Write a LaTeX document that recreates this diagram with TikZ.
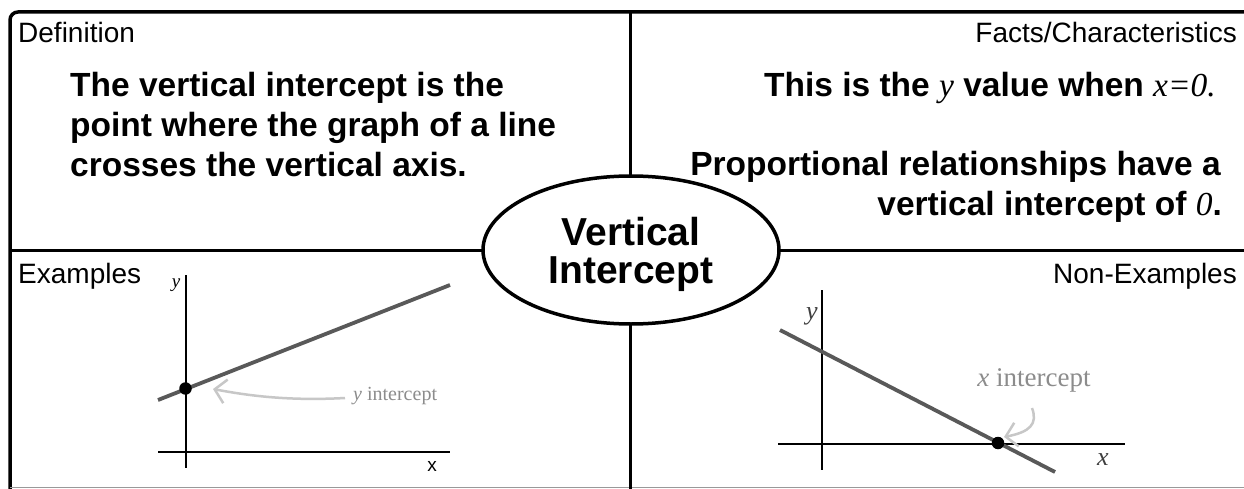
\documentclass[tikz,border=0pt]{standalone}
\usepackage{fontspec}
\setmainfont{Liberation Sans}
\newfontfamily\tms{Liberation Serif}
\usetikzlibrary{shapes.geometric,arrows.meta}
\begin{document}
\begin{tikzpicture}[x=1pt,y=-1pt,
 frame/.style={line width=3.5pt,black},
 lbl/.style={font=\fontsize{28}{30}\selectfont, inner sep=0pt},
 big/.style={font=\fontsize{33.5}{38}\selectfont\bfseries, inner sep=0pt},
 ctr/.style={font=\fontsize{39}{42}\selectfont\bfseries, anchor=base, inner sep=0pt},
 gline/.style={line width=3.8pt, color=black!65},
 axis/.style={line width=1.2pt,black},
 hint/.style={line width=2.5pt, color=black!22, -{Straight Barb[length=11pt,width=24pt,line width=2.5pt]}},
 dot/.style={circle, fill=black, inner sep=0pt, minimum size=12.5pt},
 it/.style={inner sep=0pt}]
\useasboundingbox (0,0) rectangle (1244,489);
\fill[white] (0,0) rectangle (1244,489);
% frame
\coordinate (fbl) at (10,489);
\coordinate (ftl) at (10,12);
\coordinate (ftr) at (1248,12);
\draw[frame, rounded corners=8pt] (fbl) -- (ftl) -- (ftr);
\coordinate (bl) at (10,487.5);
\coordinate (br) at (1244,487.5);
\draw[line width=1.5pt, black!40] (bl) -- (br);
\coordinate (vt) at (630,12);
\coordinate (vb) at (630,489);
\coordinate (hl) at (10,250);
\coordinate (hr) at (1248,250);
\draw[frame, line width=3pt] (vt) -- (vb);
\draw[frame, line width=3pt] (hl) -- (hr);
% centre
\node[ellipse, draw, line width=3.5pt, fill=white, minimum width=296pt, minimum height=148pt, inner sep=0pt] (centre) at (631,250) {};
\node[ctr] (c1) at (631,245) {Vertical};
\node[ctr] (c2) at (631,283) {Intercept};
% labels
\node[lbl, anchor=base west] (ldef) at (18,43) {Definition};
\node[lbl, anchor=base east] (lfact) at (1237,43) {Facts/Characteristics};
\node[lbl, anchor=base west] (lex) at (18,283) {Examples};
\node[lbl, anchor=base east] (lnon) at (1237,283) {Non-Examples};
% definition
\node[big, anchor=base west] (d1) at (70,97) {The vertical intercept is the};
\node[big, anchor=base west] (d2) at (70,137) {point where the graph of a line};
\node[big, anchor=base west] (d3) at (70,177) {crosses the vertical axis.};
% facts
\node[big, anchor=base east] (f1) at (1216,97) {This is the {\tms\mdseries\itshape y} value when {\tms\mdseries\itshape x=0.}};
\node[big, anchor=base east] (f2) at (1221,176) {Proportional relationships have a};
\node[big, anchor=base east] (f3) at (1222,215) {vertical intercept of {\tms\mdseries\itshape 0}.};
% example graph
\coordinate (eyt) at (186,275);
\coordinate (eyb) at (186,468);
\coordinate (exl) at (158,452);
\coordinate (exr) at (450,452);
\coordinate (el1) at (158,400);
\coordinate (el2) at (450,285);
\draw[axis] (eyt) -- (eyb);
\draw[axis] (exl) -- (exr);
\draw[gline] (el1) -- (el2);
\node[dot] (edot) at (185.5,388.5) {};
\node[it, font=\fontsize{19}{20}\selectfont\tms\itshape] (ey) at (176,285) {y};
\node[it, font=\fontsize{19}{20}\selectfont] (ex) at (432,466) {x};
\node[it, anchor=west, text=black!45, font=\fontsize{20}{22}\selectfont\tms] (elab) at (353,396) {{\itshape y} intercept};
\coordinate (ea) at (345,398);
\coordinate (eb) at (213,389);
\draw[hint] (ea) .. controls (290,401) and (250,396) .. (eb);
% non-example graph
\coordinate (nyt) at (822,290);
\coordinate (nyb) at (822,470);
\coordinate (nxl) at (778,444);
\coordinate (nxr) at (1125,444);
\coordinate (nl1) at (780,330);
\coordinate (nl2) at (1055,472);
\draw[axis] (nyt) -- (nyb);
\draw[axis] (nxl) -- (nxr);
\draw[gline] (nl1) -- (nl2);
\node[dot] (ndot) at (998,443) {};
\node[it, text=black!75, font=\fontsize{26}{28}\selectfont\tms\itshape] (ny) at (812,316) {y};
\node[it, text=black!75, font=\fontsize{26}{28}\selectfont\tms\itshape] (nx) at (1103,460) {x};
\node[it, text=black!45, font=\fontsize{27}{29}\selectfont\tms] (nlab) at (1034,380) {{\itshape x} intercept};
\coordinate (na) at (1032,408);
\coordinate (nb) at (1004,437);
\draw[hint] (na) .. controls (1038,424) and (1030,432) .. (nb);
\end{tikzpicture}
\end{document}
